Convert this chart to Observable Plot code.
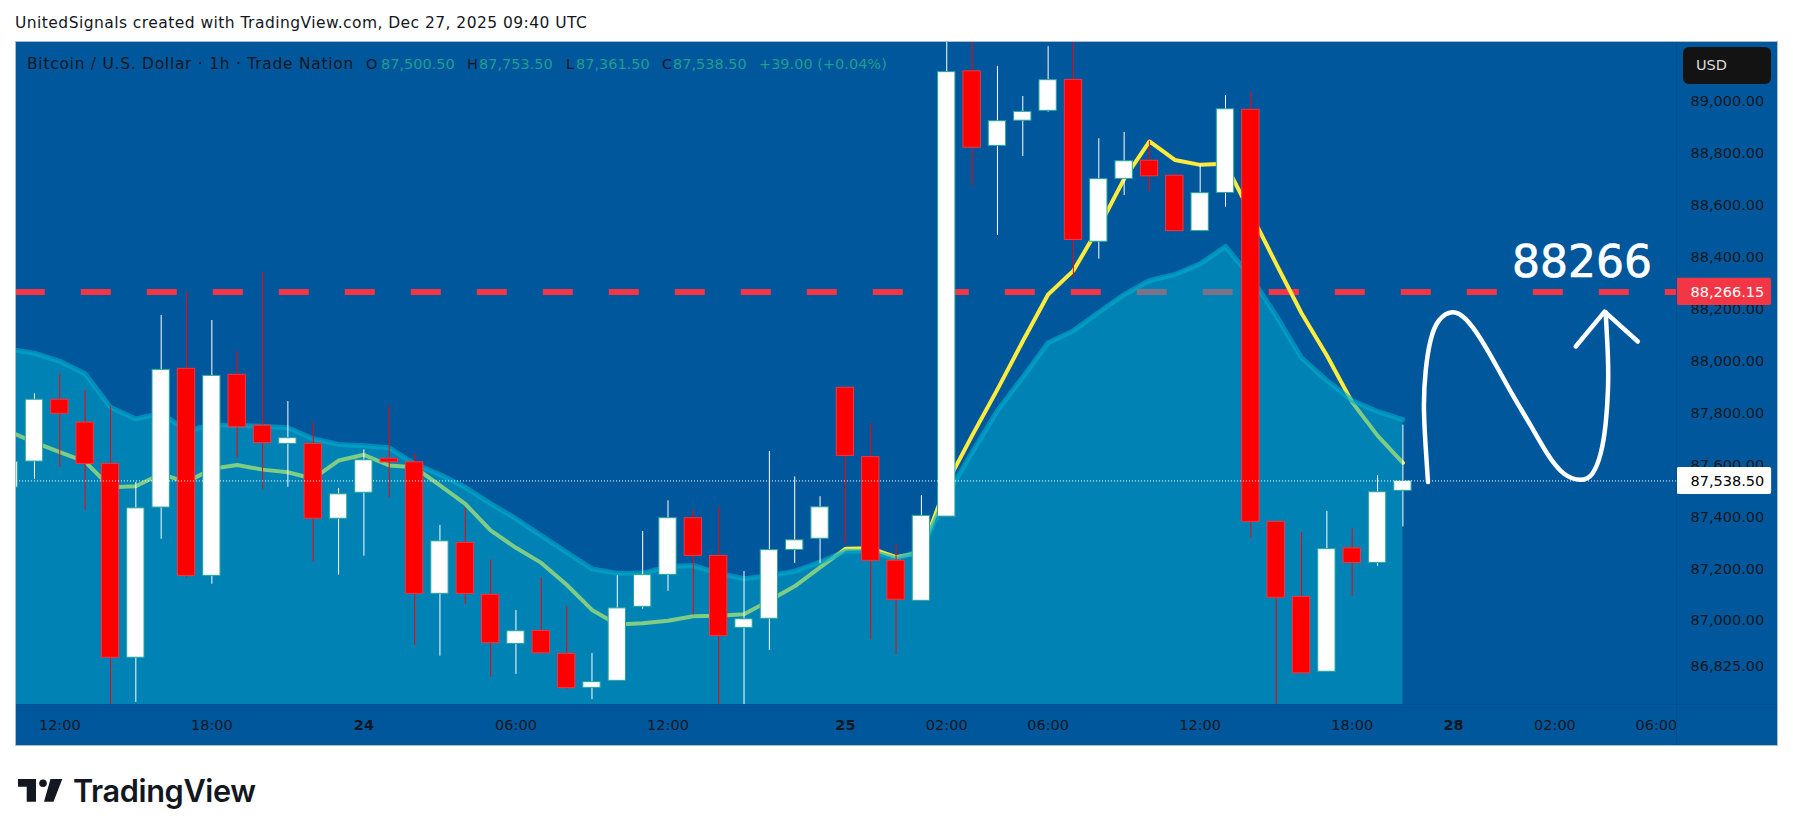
<!DOCTYPE html>
<html>
<head>
<meta charset="utf-8">
<script src="https://cdn.jsdelivr.net/npm/d3@7"></script>
<script src="https://cdn.jsdelivr.net/npm/@observablehq/plot@0.6"></script>
<style>
html,body{margin:0;padding:0;background:#fff;overflow:hidden}
body{width:1793px;height:836px;position:relative;font-family:"DejaVu Sans",sans-serif;font-size:14.5px;color:#131722}
.abs{position:absolute;white-space:pre;line-height:18px}
#box{position:absolute;left:15px;top:41px;width:1761px;height:703px;border:1px solid #a9bccd;background:#00579b}
#box .v{color:#1f9f8f}
</style>
</head>
<body>
<div class="abs" style="left:15px;top:14px;font-size:15.5px;letter-spacing:0.45px">UnitedSignals created with TradingView.com, Dec 27, 2025 09:40 UTC</div>
<div id="box">
  <div id="chart"></div>
  <div style="position:absolute;left:1660px;top:0;width:1px;height:703px;background:#004f8f"></div>
  <div style="position:absolute;left:0;top:662px;width:1761px;height:1px;background:#004f8f"></div>
  <div class="abs" style="left:11px;top:13px;font-size:15.5px;letter-spacing:0.72px">Bitcoin / U.S. Dollar · 1h · Trade Nation</div>
  <div class="abs" style="left:350px;top:13px">O</div><div class="abs v" style="left:365px;top:13px">87,500.50</div>
  <div class="abs" style="left:451px;top:13px">H</div><div class="abs v" style="left:463px;top:13px">87,753.50</div>
  <div class="abs" style="left:550px;top:13px">L</div><div class="abs v" style="left:560px;top:13px">87,361.50</div>
  <div class="abs" style="left:646px;top:13px">C</div><div class="abs v" style="left:657px;top:13px">87,538.50</div>
  <div class="abs v" style="left:743px;top:13px">+39.00 (+0.04%)</div>
  <div style="position:absolute;left:1667px;top:5px;width:88px;height:37px;background:#131313;border-radius:6px"></div>
  <div class="abs" style="left:1680px;top:14px;color:#dbdbdb">USD</div>
</div>
<svg style="position:absolute;left:0;top:0;pointer-events:none" width="80" height="836" aria-hidden="true">
  <path fill="#131722" d="M18 779H36V801.7H26.7V786.7H18Z"/>
  <circle fill="#131722" cx="43" cy="783.3" r="3.8"/>
  <path fill="#131722" d="M50.5 779H62.3L53.5 801.7H44Z"/>
</svg>
<div class="abs" style="left:73px;top:773px;font-family:Inter,sans-serif;font-weight:600;font-size:30.7px;line-height:36px;letter-spacing:-0.4px;color:#131722">TradingView</div>
<script>
// Candles, hour bars on a gap-free index (bar 0 is the first 12:00 label)
const firstBar = -2;
const opens  = [87513,87613,87851,87763,87604,86858,87436,87970,87173,87947,87751,87681,87681,87393,87493,87624,87610,87104,87300,87100,86911,86961,86873,86742,86769,87054,87177,87395,87250,86973,87008,87273,87316,87897,87630,87231,87077,87401,89115,88828,88925,88963,89082,88459,88701,88771,88713,88500,88647,88967,87381,87092,86804,87279,87223,87500.5];
const highs  = [87640,87874,87948,87886,87825,87533,88175,88264,88156,88035,88341,87844,87763,87509,87658,87825,87643,87367,87433,87235,87040,87164,87055,86874,87174,87344,87462,87427,87436,87190,87652,87554,87478,87897,87758,87295,87482,89230,89230,89134,89018,89210,89230,88856,88880,88846,88724,88756,89022,89033,87381,87340,87421,87354,87559,87753.5];
const lows   = [87490,87545,87591,87425,86650,86686,87314,87165,87141,87626,87503,87514,87226,87176,87249,87472,86905,86864,87064,86783,86794,86875,86735,86697,86769,87045,87114,87023,86650,86650,86886,87221,87221,87299,86927,86871,87077,87401,88675,88483,88787,88958,88322,88392,88637,88652,88500,88500,88592,87318,86650,86798,86804,87094,87210,87361.5];
const closes = [87612,87851,87797,87604,86858,87433,87966,87173,87943,87745,87684,87703,87393,87487,87618,87610,87104,87306,87104,86914,86960,86875,86741,86764,87048,87176,87395,87250,86942,87006,87272,87310,87437,87635,87231,87081,87404,89112,88821,88923,88959,89081,88466,88700,88769,88711,88500,88646,88969,87381,87089,86798,87276,87223,87495,87538.5];
// Two-line cloud: the band fills down to the pane's bottom; the fast line runs under it
const bandLine = [88046,88030,87999,87951,87822,87777,87799,87732,87754,87752,87749,87743,87701,87679,87674,87666,87604,87563,87514,87451,87393,87328,87264,87200,87183,87183,87209,87213,87183,87162,87174,87191,87226,87268,87268,87239,87271,87483,87648,87809,87938,88070,88117,88188,88256,88310,88333,88374,88441,88323,88175,88012,87925,87848,87806,87774];
const fastLine = [87729,87687,87649,87613,87514,87518,87566,87533,87585,87600,87582,87572,87547,87617,87639,87598,87591,87521,87450,87348,87281,87223,87139,87042,86986,86991,87000,87018,87020,87025,87078,87133,87206,87277,87279,87245,87264,87528,87713,87891,88076,88256,88348,88515,88701,88845,88774,88755,88759,88567,88374,88184,88021,87841,87713,87608];
// Hand-drawn projection
const sketchBar   = [53.99,53.90,53.83,53.90,54.09,54.42,54.95,55.47,56.07,56.72,57.38,58.04,58.70,59.36,60.01,60.47,60.80,61.00,61.09,61.09,61.00];
const sketchPrice = [87534,87668,87822,87963,88079,88156,88188,88162,88085,87976,87861,87752,87643,87566,87543,87566,87643,87758,87886,88015,88188];
const arrowBar    = [59.82,60.96,62.27];
const arrowPrice  = [88056,88190,88075];
// Levels and ticks
const targetPrice = 88266.15;
const lastPrice = 87538.5;
const yTicks = [89000,88800,88600,88400,88200,88000,87800,87600,87400,87200,87000,86825];
const xMinorBars = [0,6,18,24,35,39,45,51,59,63];
const xMinorLabels = ["12:00","18:00","06:00","12:00","02:00","06:00","12:00","18:00","02:00","06:00"];
const xMajorBars = [12,31,55];
const xMajorLabels = ["24","25","28"];
const xDomain = [-1.709, 63.82];
const yDomain = [86678, 89226];

const bars = opens.map((o,k)=>({i:firstBar+k,o,h:highs[k],l:lows[k],c:closes[k],up:closes[k]>=o,band:bandLine[k],fast:fastLine[k]}));
const sketch = sketchBar.map((b,k)=>({b,p:sketchPrice[k]}));
const arrow = arrowBar.map((b,k)=>({b,p:arrowPrice[k]}));
const fmt = d3.format(",.2f");
const half = 0.342;
const bottom = yDomain[0];
const ink = "#131722", tagRed = "#f23645", cloud = "#00adcd";
const tagRight = 67.55, tagHalf = 52;

const labelAxis = (ticks,labels,weight)=>Plot.axisX({ticks,tickFormat:d=>labels[ticks.indexOf(d)],anchor:"bottom",tickSize:0,tickPadding:15,fill:ink,fontWeight:weight,label:null});

const chart = Plot.plot({
  width:1761,height:703,marginLeft:0,marginRight:100.4,marginTop:0,marginBottom:41,
  x:{domain:xDomain},y:{domain:yDomain},
  style:{background:"#00579b",fontFamily:'"DejaVu Sans",sans-serif',fontSize:"14.5px",color:ink,overflow:"visible"},
  marks:[
    Plot.ruleY([targetPrice],{stroke:tagRed,strokeWidth:6,strokeDasharray:"30,36",strokeDashoffset:1.2}),
    Plot.line(bars,{x:"i",y:"fast",stroke:"#ffeb3b",strokeWidth:4,clip:true}),
    Plot.areaY(bars,{x:"i",y1:"band",y2:()=>bottom,fill:cloud,fillOpacity:0.5,clip:true}),
    Plot.line(bars,{x:"i",y:"band",stroke:cloud,strokeOpacity:0.6,strokeWidth:5,clip:true}),
    Plot.ruleX(bars,{x:"i",y1:"l",y2:"h",stroke:d=>d.up?"#ffffff":"#ff0000",strokeWidth:1,clip:true}),
    Plot.rect(bars,{x1:d=>d.i-half,x2:d=>d.i+half,y1:d=>Math.min(d.o,d.c),y2:d=>Math.max(d.o,d.c),fill:d=>d.up?"#ffffff":"#ff0000",stroke:d=>d.up?"#26a69a":tagRed,strokeWidth:1,inset:0,clip:true}),
    Plot.ruleY([lastPrice],{stroke:"#ffffff",strokeWidth:1,strokeDasharray:"1,2"}),
    Plot.line(sketch,{x:"b",y:"p",curve:"natural",stroke:"#ffffff",strokeWidth:4.5,strokeLinecap:"round",strokeLinejoin:"round"}),
    Plot.line(arrow,{x:"b",y:"p",stroke:"#ffffff",strokeWidth:4.5,strokeLinecap:"round",strokeLinejoin:"round"}),
    Plot.text(["88266"],{x:[60.07],y:[88379],text:d=>d,fill:"#ffffff",stroke:"#ffffff",strokeWidth:0.7,fontSize:44,textAnchor:"middle",lineAnchor:"middle"}),
    labelAxis(xMinorBars,xMinorLabels,"normal"),
    labelAxis(xMajorBars,xMajorLabels,"bold"),
    Plot.axisY({ticks:yTicks,tickFormat:fmt,anchor:"right",tickSize:0,tickPadding:13.4,textAnchor:"start",fill:ink,label:null}),
    Plot.rect([targetPrice],{x1:xDomain[1],x2:tagRight,y1:d=>d-tagHalf,y2:d=>d+tagHalf,fill:tagRed,rx:2}),
    Plot.rect([lastPrice],{x1:xDomain[1],x2:tagRight,y1:d=>d-tagHalf,y2:d=>d+tagHalf,fill:"#ffffff",rx:2}),
    Plot.text([targetPrice],{y:d=>d,text:fmt,frameAnchor:"right",dx:13.4,textAnchor:"start",fill:"#ffffff"}),
    Plot.text([lastPrice],{y:d=>d,text:fmt,frameAnchor:"right",dx:13.4,textAnchor:"start",fill:"#000000"})
  ]
});
document.getElementById("chart").appendChild(chart);
</script>
</body>
</html>
